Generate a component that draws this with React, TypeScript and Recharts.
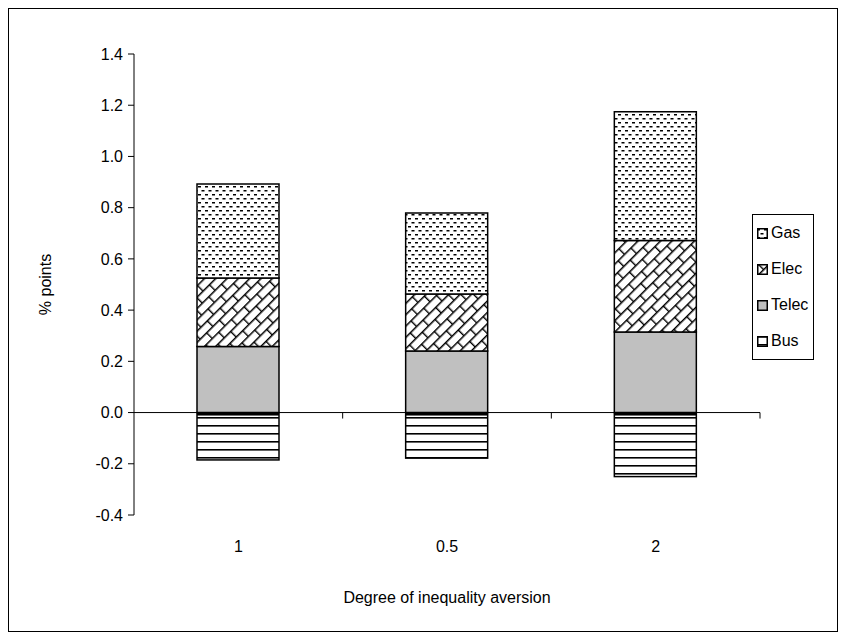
import { Bar, BarChart, Label, ReferenceLine, XAxis, YAxis } from "recharts";

// Degree of inequality aversion (category order as in the source chart)
const categories = ["1", "0.5", "2"];
const bus = [-0.185, -0.178, -0.25];
const telec = [0.258, 0.24, 0.315];
const elec = [0.267, 0.223, 0.357];
const gas = [0.367, 0.316, 0.503];
const yTicks = [-0.4, -0.2, 0.0, 0.2, 0.4, 0.6, 0.8, 1.0, 1.2, 1.4];

const data = categories.map((c, i) => ({
  aversion: c,
  Bus: bus[i],
  Telec: telec[i],
  Elec: elec[i],
  Gas: gas[i],
}));

const FONT = "'Liberation Sans', Arial, sans-serif";
const FS = 16;
const fills: Record<string, string> = {
  Gas: "url(#pGas)",
  Elec: "url(#pElec)",
  Telec: "#c0c0c0",
  Bus: "url(#pBus)",
};
// legend lists top series first, like Excel does for stacks
const legendOrder = ["Gas", "Elec", "Telec", "Bus"];

// Bus sits below zero; Excel draws a heavy edge where it meets the axis
function BusShape(props: any) {
  const { x, y, width, height } = props;
  const top = Math.min(y, y + height);
  const h = Math.abs(height);
  return (
    <g>
      <rect x={x} y={top} width={width} height={h} fill="url(#pBus)" stroke="#000" strokeWidth={1.5} />
      <rect x={x} y={top - 0.5} width={width} height={3.5} fill="#000" />
    </g>
  );
}

// zero line doubles as the category axis, with boundary ticks hanging below it
function ZeroAxis(props: any) {
  const { x1, x2, y1 } = props;
  const step = (x2 - x1) / categories.length;
  return (
    <g>
      <line x1={x1} x2={x2} y1={y1} y2={y1} stroke="#000" strokeWidth={1} />
      {categories.map((_, i) => (
        <line
          key={i}
          x1={x1 + step * (i + 1)}
          x2={x1 + step * (i + 1)}
          y1={y1}
          y2={y1 + 6}
          stroke="#000"
          strokeWidth={1}
        />
      ))}
    </g>
  );
}

function LegendBox() {
  return (
    <div
      style={{
        position: "absolute",
        left: 743,
        top: 205,
        width: 56,
        border: "1px solid #000",
        background: "#fff",
        padding: "0 0 0 4px",
        fontSize: FS,
        color: "#000",
      }}
    >
      {legendOrder.map((name) => (
        <div key={name} style={{ display: "flex", alignItems: "center", height: 36 }}>
          <svg width={11} height={11} style={{ marginRight: 3, flex: "none" }}>
            <rect x={0.75} y={0.75} width={9.5} height={9.5} fill={fills[name]} stroke="#000" strokeWidth={1.5} />
          </svg>
          <span>{name}</span>
        </div>
      ))}
    </div>
  );
}

export default function App() {
  return (
    <div
      style={{
        position: "relative",
        width: 828,
        height: 622,
        border: "1px solid #000",
        background: "#fff",
        fontFamily: FONT,
      }}
    >
      <BarChart
        width={828}
        height={622}
        data={data}
        stackOffset="sign"
        barSize={82}
        margin={{ top: 45, right: 77, left: 0, bottom: 0 }}
      >
        <defs>
          <pattern id="pGas" width={7} height={8} patternUnits="userSpaceOnUse">
            <rect width={7} height={8} fill="#fff" />
            <rect x={0} y={1} width={3} height={1.5} fill="#000" />
            <rect x={3.5} y={5} width={3} height={1.5} fill="#000" />
          </pattern>
          <pattern
            id="pElec"
            width={18}
            height={16}
            patternUnits="userSpaceOnUse"
            patternTransform="rotate(-45)"
          >
            <rect width={18} height={16} fill="#fff" />
            <path d="M0 0.7 H18 M0 8.7 H18 M0.7 0 V8 M9.7 8 V16" stroke="#000" strokeWidth={1.4} fill="none" />
          </pattern>
          <pattern id="pBus" width={8} height={8} patternUnits="userSpaceOnUse">
            <rect width={8} height={8} fill="#fff" />
            <rect x={0} y={0} width={8} height={1.6} fill="#000" />
          </pattern>
        </defs>
        <XAxis
          dataKey="aversion"
          height={116}
          axisLine={false}
          tickLine={false}
          tick={{ fontSize: FS, fill: "#000", dy: 18 }}
        >
          <Label
            value="Degree of inequality aversion"
            position="insideBottom"
            offset={28}
            style={{ fontSize: FS, fill: "#000" }}
          />
        </XAxis>
        <YAxis
          width={125}
          domain={[-0.4, 1.4]}
          ticks={yTicks}
          interval={0}
          tickFormatter={(v: number) => v.toFixed(1)}
          axisLine={{ stroke: "#000" }}
          tickLine={{ stroke: "#000" }}
          tickSize={6}
          tickMargin={5}
          tick={{ fontSize: FS, fill: "#000" }}
        >
          <Label
            value="% points"
            angle={-90}
            position="insideLeft"
            offset={36}
            style={{ fontSize: FS, fill: "#000", textAnchor: "middle" }}
          />
        </YAxis>
        <ReferenceLine y={0} shape={(p: any) => <ZeroAxis {...p} />} />
        <Bar dataKey="Bus" stackId="s" isAnimationActive={false} shape={(p: any) => <BusShape {...p} />} />
        <Bar dataKey="Telec" stackId="s" fill={fills.Telec} stroke="#000" strokeWidth={1.5} isAnimationActive={false} />
        <Bar dataKey="Elec" stackId="s" fill={fills.Elec} stroke="#000" strokeWidth={1.5} isAnimationActive={false} />
        <Bar dataKey="Gas" stackId="s" fill={fills.Gas} stroke="#000" strokeWidth={1.5} isAnimationActive={false} />
      </BarChart>
      <LegendBox />
    </div>
  );
}
